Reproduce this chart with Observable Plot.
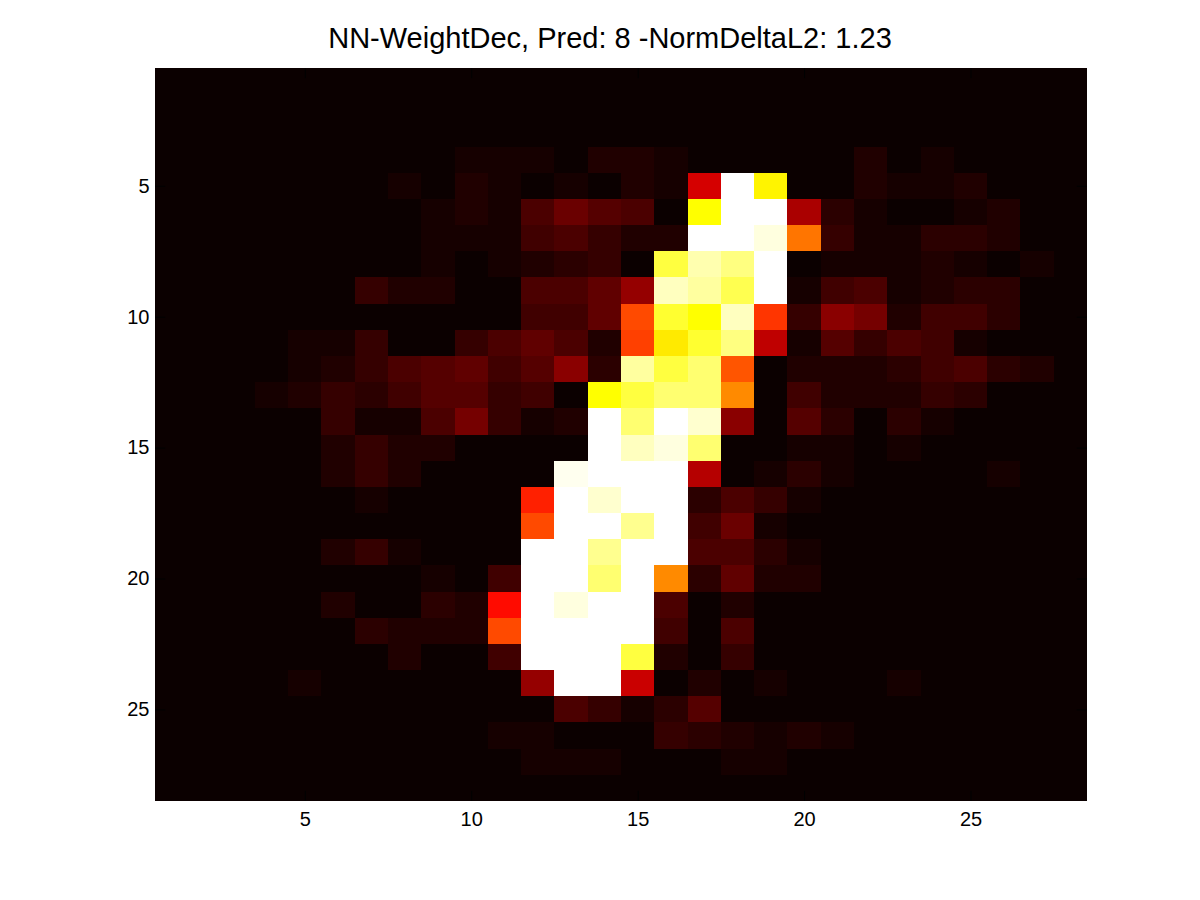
<!DOCTYPE html>
<html>
<head>
<meta charset="utf-8">
<script src="https://cdn.jsdelivr.net/npm/d3@7"></script>
<script src="https://cdn.jsdelivr.net/npm/@observablehq/plot@0.6"></script>
<style>
html,body{margin:0;padding:0;background:#fff;}
#title{height:68px;width:1200px;box-sizing:border-box;text-align:center;font:29px "Liberation Sans",Arial,sans-serif;color:#000;padding-left:20px;line-height:77px;white-space:nowrap;}
svg{display:block;}
</style>
</head>
<body>
<div id="title">NN-WeightDec, Pred: 8 -NormDeltaL2: 1.23</div>
<div id="chart"></div>
<script>
const tickValues = [5, 10, 15, 20, 25];
const colormapStops = [1, 24, 48, 64];
const colormapColors = ["#0b0000", "#ff0000", "#ffff00", "#ffffff"];
const levels = [
 [1,1,1,1,1,1,1,1,1,1,1,1,1,1,1,1,1,1,1,1,1,1,1,1,1,1,1,1],
 [1,1,1,1,1,1,1,1,1,1,1,1,1,1,1,1,1,1,1,1,1,1,1,1,1,1,1,1],
 [1,1,1,1,1,1,1,1,1,1,1,1,1,1,1,1,1,1,1,1,1,1,1,1,1,1,1,1],
 [1,1,1,1,1,1,1,1,1,2,2,2,1,3,3,2,1,1,1,1,1,3,1,2,1,1,1,1],
 [1,1,1,1,1,1,1,2,1,3,2,1,2,1,3,2,20,64,47,1,1,3,2,2,3,1,1,1],
 [1,1,1,1,1,1,1,1,2,3,2,7,10,8,7,1,48,64,64,16,4,2,1,1,2,3,1,1],
 [1,1,1,1,1,1,1,1,2,2,2,6,7,5,3,3,64,64,62,35,5,2,2,4,4,3,1,1],
 [1,1,1,1,1,1,1,1,2,1,2,3,4,5,1,52,59,56,64,1,2,2,2,3,2,1,2,1],
 [1,1,1,1,1,1,5,3,3,1,1,7,7,9,14,60,58,53,64,2,6,7,2,3,4,4,1,1],
 [1,1,1,1,1,1,1,1,1,1,1,6,6,9,31,51,48,60,29,5,13,11,3,6,6,4,1,1],
 [1,1,1,1,2,2,5,1,1,5,7,9,7,3,30,46,51,56,18,2,8,5,7,6,2,1,1,1],
 [1,1,1,1,2,3,5,7,8,9,6,8,13,4,58,52,55,32,1,3,3,3,4,6,7,4,3,1],
 [1,1,1,2,3,5,4,6,8,8,5,6,1,48,52,55,55,37,1,6,3,3,3,5,4,1,1,1],
 [1,1,1,1,1,5,2,2,7,11,5,2,3,64,55,64,61,13,1,8,4,1,4,2,1,1,1,1],
 [1,1,1,1,1,3,5,3,3,1,1,1,1,64,60,62,55,1,1,2,2,1,2,1,1,1,1,1],
 [1,1,1,1,1,3,5,3,1,1,1,1,63,64,64,64,17,1,2,4,2,1,1,1,1,2,1,1],
 [1,1,1,1,1,1,2,1,1,1,1,27,64,61,64,64,4,7,5,2,1,1,1,1,1,1,1,1],
 [1,1,1,1,1,1,1,1,1,1,1,31,64,64,57,64,6,10,2,1,1,1,1,1,1,1,1,1],
 [1,1,1,1,1,3,5,2,1,1,1,64,64,57,64,64,7,7,4,2,1,1,1,1,1,1,1,1],
 [1,1,1,1,1,1,1,1,2,1,6,64,64,55,64,37,4,9,3,3,1,1,1,1,1,1,1,1],
 [1,1,1,1,1,3,1,1,4,3,25,64,62,64,64,7,1,3,1,1,1,1,1,1,1,1,1,1],
 [1,1,1,1,1,1,4,3,3,3,31,64,64,64,64,6,1,7,1,1,1,1,1,1,1,1,1,1],
 [1,1,1,1,1,1,1,3,1,1,6,64,64,64,52,3,1,5,1,1,1,1,1,1,1,1,1,1],
 [1,1,1,1,2,1,1,1,1,1,1,14,64,64,19,1,3,1,2,1,1,1,2,1,1,1,1,1],
 [1,1,1,1,1,1,1,1,1,1,1,1,7,5,2,4,8,1,1,1,1,1,1,1,1,1,1,1],
 [1,1,1,1,1,1,1,1,1,1,2,2,1,1,1,5,4,3,2,3,2,1,1,1,1,1,1,1],
 [1,1,1,1,1,1,1,1,1,1,1,2,2,2,1,1,1,2,2,1,1,1,1,1,1,1,1,1],
 [1,1,1,1,1,1,1,1,1,1,1,1,1,1,1,1,1,1,1,1,1,1,1,1,1,1,1,1]
];
const cells = levels.flatMap((vals, r) => vals.map((v, c) => ({col: c + 1, row: r + 1, level: v})));
const indices = d3.range(1, 29);

const plot = Plot.plot({
  width: 1200,
  height: 832,
  marginLeft: 155,
  marginRight: 113,
  marginTop: 0,
  marginBottom: 99,
  style: {background: "#fff", fontFamily: "'Liberation Sans', Arial, sans-serif", fontSize: "20px", color: "#000"},
  x: {type: "band", domain: indices, padding: 0, round: false, label: null},
  y: {type: "band", domain: indices, padding: 0, round: false, label: null},
  color: {type: "linear", domain: colormapStops, range: colormapColors, interpolate: "rgb", clamp: true},
  marks: [
    Plot.cell(cells, {x: "col", y: "row", fill: "level", inset: 0, shapeRendering: "crispEdges"}),
    Plot.axisX({anchor: "bottom", ticks: tickValues, tickSize: 0, tickPadding: 10, label: null}),
    Plot.axisY({anchor: "left", ticks: tickValues, tickSize: 0, tickPadding: 6, label: null}),
    Plot.tickX(tickValues, {x: d => d, y: () => 28, insetTop: 16, stroke: "#000", strokeWidth: 1}),
    Plot.tickX(tickValues, {x: d => d, y: () => 1, insetBottom: 16, stroke: "#000", strokeWidth: 1}),
    Plot.tickY(tickValues, {y: d => d, x: () => 1, insetRight: 23, stroke: "#000", strokeWidth: 1}),
    Plot.tickY(tickValues, {y: d => d, x: () => 28, insetLeft: 23, stroke: "#000", strokeWidth: 1})
  ]
});
document.getElementById("chart").appendChild(plot);
</script>
</body>
</html>
